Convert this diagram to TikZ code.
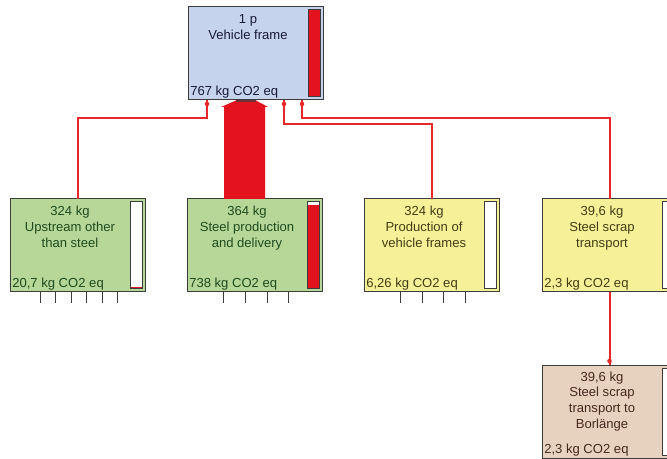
\documentclass[tikz,border=0pt]{standalone}
\usepackage{fontspec}
\setmainfont{Liberation Sans}
\definecolor{bluef}{RGB}{197,211,236}
\definecolor{greenf}{RGB}{182,215,152}
\definecolor{yellowf}{RGB}{246,240,152}
\definecolor{tanf}{RGB}{231,209,191}
\definecolor{bluet}{RGB}{25,25,55}
\definecolor{greent}{RGB}{30,75,30}
\definecolor{yellowt}{RGB}{65,62,20}
\definecolor{tant}{RGB}{70,42,30}
\definecolor{bordc}{RGB}{60,60,60}
\definecolor{barred}{RGB}{226,18,30}
\definecolor{connc}{RGB}{232,40,40}
\begin{document}
\begin{tikzpicture}[x=0.75pt,y=-0.75pt,
  procbox/.style={draw=bordc,line width=0.75pt,inner sep=0pt,outer sep=0pt,
    minimum width=101.25pt,minimum height=69.75pt,anchor=north west},
  barbox/.style={draw=bordc,line width=0.75pt,fill=white,inner sep=0pt,outer sep=0pt,
    minimum width=9pt,minimum height=65.25pt,anchor=north east},
  ttl/.style={anchor=north,align=center,inner sep=0pt,font=\fontsize{9.8pt}{11.7pt}\selectfont},
  val/.style={anchor=base west,inner sep=0pt,font=\fontsize{9.8pt}{11.7pt}\selectfont},
  conn/.style={draw=connc,line width=1.5pt},
  dotm/.style={fill=connc},
  tickm/.style={draw=bordc,line width=0.75pt}]
\useasboundingbox (0,0) rectangle (667,459);
\clip (0,0) rectangle (667,459);

% top box
\node[procbox,fill=bluef] (vf) at (188,7) {};
\node[barbox,fill=barred] (vfbar) at (320,10) {};
\node[ttl,text=bluet] (vft) at (248,14.2) {1 p\\Vehicle frame};
\node[val,text=bluet] (vfv) at (190,95.5) {767 kg CO2 eq};

% upstream
\node[procbox,fill=greenf] (up) at (10,199) {};
\node[barbox] (upbar) at (142,202) {};
\fill[barred] (upbar.south west) rectangle ([yshift=1.8pt]upbar.south east);
\draw[bordc,line width=0.75pt] (upbar.south west) rectangle (upbar.north east);
\node[ttl,text=greent] (upt) at (70,206.2) {324 kg\\Upstream other\\than steel};
\node[val,text=greent] (upv) at (12,288) {20,7 kg CO2 eq};
\foreach \x in {40,55,71,86,102,117} \draw[tickm] (\x,292) -- ++(0,11);

% steel production
\node[procbox,fill=greenf] (sp) at (187,199) {};
\node[barbox] (spbar) at (319,202) {};
\fill[barred] (spbar.south west) rectangle ([yshift=-2.6pt]spbar.north east);
\draw[bordc,line width=0.75pt] (spbar.south west) rectangle (spbar.north east);
\node[ttl,text=greent] (spt) at (247,206.2) {364 kg\\Steel production\\and delivery};
\node[val,text=greent] (spv) at (189,288) {738 kg CO2 eq};
\foreach \x in {223,245,267,288} \draw[tickm] (\x,292) -- ++(0,11);

% production of vehicle frames
\node[procbox,fill=yellowf] (pv) at (364,199) {};
\node[barbox] (pvbar) at (496,202) {};
\fill[barred] (pvbar.south west) rectangle ([yshift=1.1pt]pvbar.south east);
\draw[bordc,line width=0.75pt] (pvbar.south west) rectangle (pvbar.north east);
\node[ttl,text=yellowt] (pvt) at (424,206.2) {324 kg\\Production of\\vehicle frames};
\node[val,text=yellowt] (pvv) at (366,288) {6,26 kg CO2 eq};
\foreach \x in {400,422,443,465} \draw[tickm] (\x,292) -- ++(0,11);

% steel scrap transport
\node[procbox,fill=yellowf] (st) at (542,199) {};
\node[barbox] (stbar) at (674,202) {};
\node[ttl,text=yellowt] (stt) at (602,206.2) {39,6 kg\\Steel scrap\\transport};
\node[val,text=yellowt] (stv) at (544,288) {2,3 kg CO2 eq};

% steel scrap transport to Borlaenge
\node[procbox,fill=tanf] (bo) at (542,365) {};
\node[barbox] (bobar) at (674,368) {};
\node[ttl,text=tant] (bot) at (602,371.6) {39,6 kg\\Steel scrap\\transport to\\Borlänge};
\node[val,text=tant] (bov) at (544,453.5) {2,3 kg CO2 eq};

% connection points on the top box
\coordinate (vfa) at ([xshift=14.25pt]vf.south west);
\coordinate (vfb) at ([xshift=72pt]vf.south west);
\coordinate (vfc) at ([xshift=85.5pt]vf.south west);

% connectors
\draw[conn] (up.north) |- ([yshift=-13.5pt]vfa) -- (vfa);
\draw[conn] (pv.north) |- ([yshift=-18pt]vfb) -- (vfb);
\draw[conn] (st.north) |- ([yshift=-13.5pt]vfc) -- (vfc);
\draw[conn] (st.south) -- (bo.north);
\fill[dotm] ([yshift=-3pt]vfa) circle (1.7pt);
\fill[dotm] ([yshift=-3pt]vfb) circle (1.7pt);
\fill[dotm] ([yshift=-3pt]vfc) circle (1.7pt);
\fill[dotm] ([yshift=3pt]bo.north) circle (1.7pt);

% wide flow arrow from steel production
\fill[barred] (224,199) -- (224,107) -- (221,107) -- (236,100.5) -- (256,100.5)
  -- (268,107) -- (265,107) -- (265,199) -- cycle;
\draw[bordc!70!barred,line width=1pt] (236,101) -- (256,101);
\end{tikzpicture}
\end{document}
